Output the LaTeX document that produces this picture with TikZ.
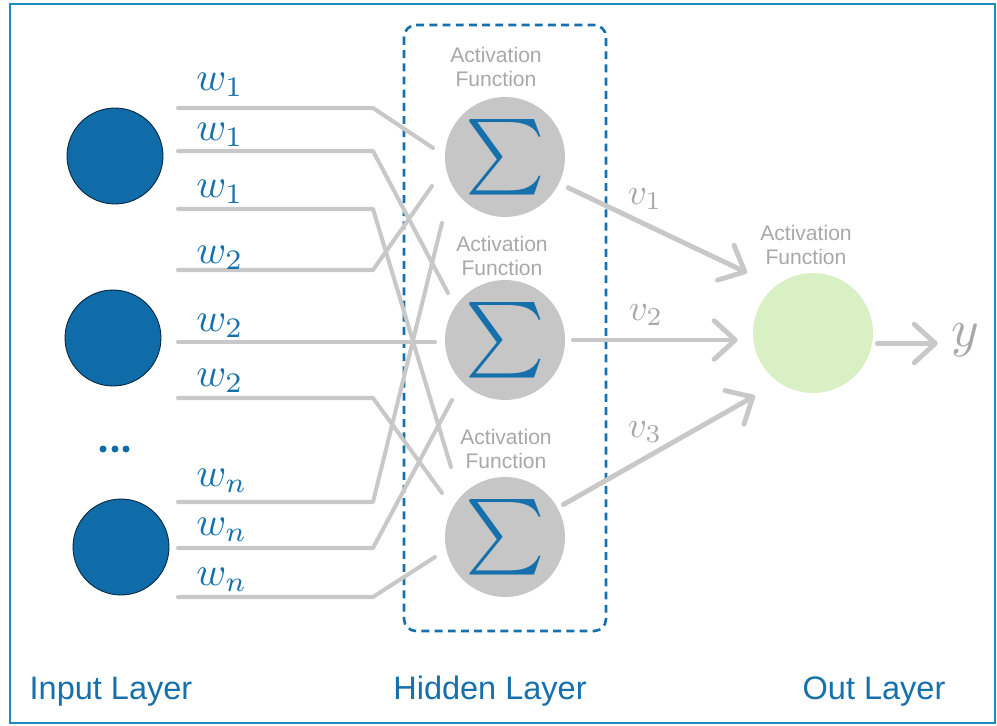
\documentclass[tikz,border=0pt]{standalone}
\usepackage{amsmath}
\usepackage{graphicx}
\usepackage{fontspec}
\usepackage{tikz}
\usetikzlibrary{positioning,arrows.meta}
\newfontfamily\arialFont{Liberation Sans}
\tikzstyle{network} = [x = 0.02cm, y = -0.02cm]
\definecolor{nodeBlue}{RGB}{16,108,168}
\definecolor{textBlue}{RGB}{22,112,172}
\definecolor{frameColor}{RGB}{30,140,195}
\definecolor{wireColor}{RGB}{200,200,200}
\definecolor{hiddenColor}{RGB}{198,198,198}
\definecolor{captionGray}{RGB}{168,168,168}
\definecolor{outColor}{RGB}{217,240,197}
\tikzstyle{frameLine} = [color=frameColor, line width=1.5pt]
\tikzstyle{hiddenBox} = [color=textBlue, line width=1.5pt, rounded corners=.24cm, dash pattern=on 4.5pt off 3pt]
\tikzstyle{inputNode} = [circle, fill=nodeBlue, draw=black!65!nodeBlue, line width=.5pt, minimum size=1.92cm, inner sep=0]
\tikzstyle{hiddenNode} = [circle, fill=hiddenColor, minimum size=2.4cm, inner sep=0, text=textBlue]
\tikzstyle{outNode} = [circle, fill=outColor, minimum size=2.4cm, inner sep=0]
\tikzstyle{wireLine} = [color=wireColor, line width=2.3pt, line cap=round, line join=round]
\tikzstyle{arrowLine} = [color=wireColor, line width=2.8pt, line cap=round, -{Straight Barb[length=12pt, width=22pt, round]}]
\tikzstyle{captionText} = [align=center, text=captionGray, font=\arialFont\fontsize{12}{13.5}\selectfont, inner sep=0]
\tikzstyle{weightText} = [anchor=west, text=textBlue, inner sep=0]
\tikzstyle{valueText} = [text=captionGray, inner sep=0]
\tikzstyle{layerText} = [anchor=base, text=textBlue, font=\arialFont\fontsize{18.5}{20}\selectfont]
\newcommand{\captionAt}[3]{\node [captionText] (#1) at (#2, #3) {Activation\\Function};}
\newcommand{\bigSum}{\scalebox{4.3}{$\sum$}}

\begin{document}
\begin{tikzpicture}[network]
  \useasboundingbox (0,0) rectangle (997,726);
  \draw [frameLine] (10,4) rectangle (995,723);

  % input layer
  \node [inputNode] (in1) at (115,156) {};
  \node [inputNode] (in2) at (113,338) {};
  \node [inputNode] (in3) at (121,547) {};
  \foreach \x in {103,115,126} {
    \fill [nodeBlue] (\x,449) circle (.07cm);
  }

  % hidden layer
  \draw [hiddenBox] (404,25) rectangle (606,631);
  \node [hiddenNode] (h1) at (505,157) {\bigSum};
  \node [hiddenNode] (h2) at (505,340) {\bigSum};
  \node [hiddenNode] (h3) at (505,537) {\bigSum};
  \captionAt{cap1}{496}{67}
  \captionAt{cap2}{502}{256}
  \captionAt{cap3}{506}{449}

  % out layer
  \node [outNode] (out) at (813,333) {};
  \captionAt{cap4}{806}{245}
  \node [valueText] (yout) at (965,340) {\scalebox{3}{$y$}};

  % weights
  \foreach \y/\hid/\dx/\dy in {108/h1/-72/-9, 151/h2/-57/-47, 209/h3/-54/-70,
                               270/h1/-73/29, 342/h2/-70/2, 398/h3/-63/-44,
                               502/h1/-63/66, 548/h2/-53/60, 597/h3/-70/20} {
    \draw [wireLine] (178,\y) -- (373,\y) -- ([shift={(\dx,\dy)}]\hid.center);
  }
  \foreach \y/\lab [count=\i] in {85/w_1, 135/w_1, 192/w_1, 258/w_2, 326/w_2,
                                  381/w_2, 481/w_n, 530/w_n, 580/w_n} {
    \node [weightText] (w\i) at (196,\y) {\scalebox{2.3}{$\lab$}};
  }

  % outputs of the hidden layer
  \draw [arrowLine, shorten <=.2cm, shorten >=.62cm] (h1.-26) -- (out.129);
  \draw [arrowLine, shorten <=.16cm, shorten >=.3cm] (h2.east) -- (h2.east -| out.west);
  \draw [arrowLine, shorten <=.13cm, shorten >=.54cm] (h3.29) -- (out.235);
  \draw [arrowLine, shorten <=.1cm, shorten >=.26cm] (out.-10) -- (out.-10 -| yout.west);
  \node [valueText] (v1) at (645,199) {\scalebox{2.1}{$v_1$}};
  \node [valueText] (v2) at (646,315) {\scalebox{2.1}{$v_2$}};
  \node [valueText] (v3) at (645,432) {\scalebox{2.1}{$v_3$}};

  \node [layerText] (inLabel) at (111,699) {Input Layer};
  \node [layerText] (hidLabel) at (490,699) {Hidden Layer};
  \node [layerText] (outLabel) at (874,699) {Out Layer};
\end{tikzpicture}
\end{document}
